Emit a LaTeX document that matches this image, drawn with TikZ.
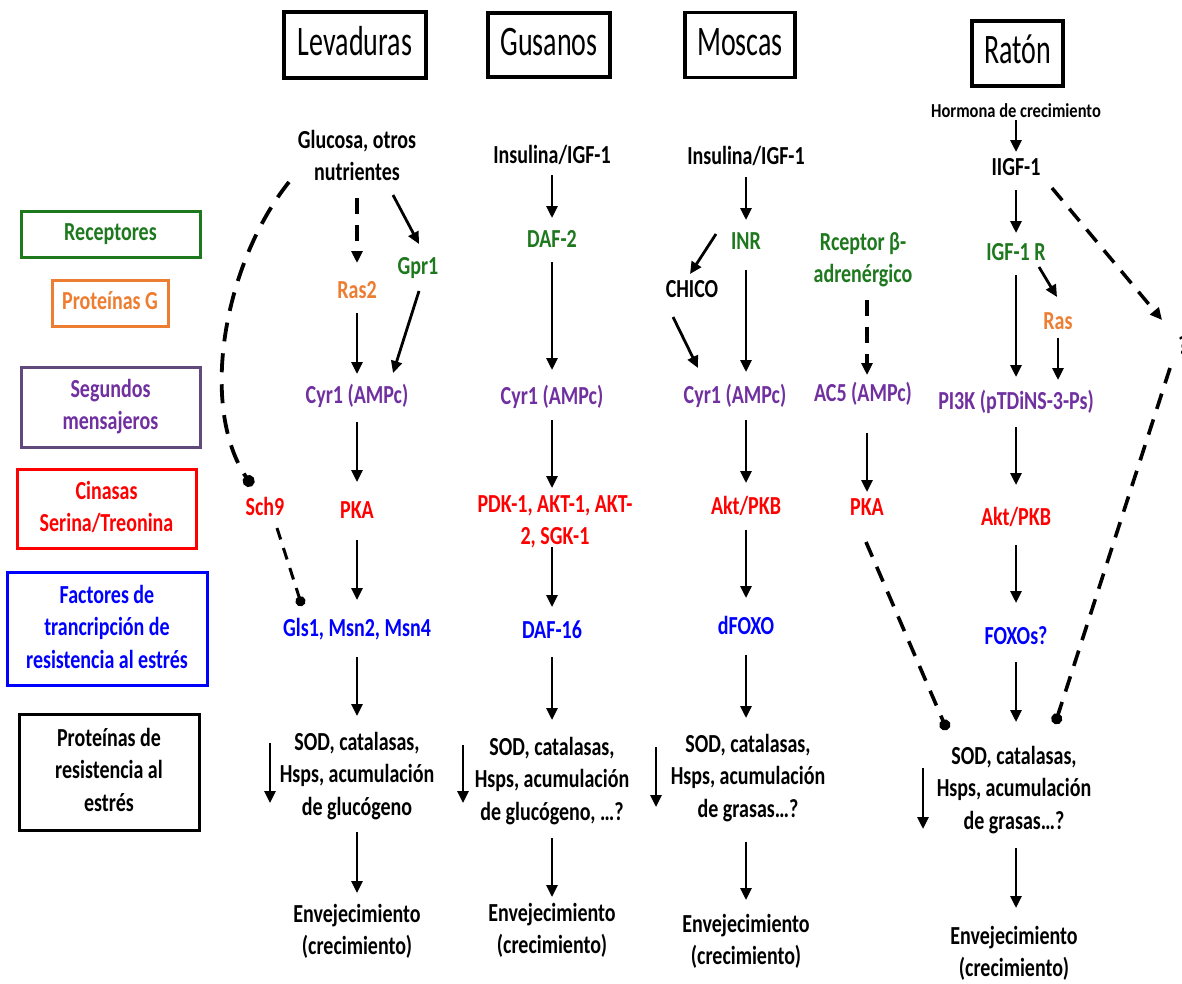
\documentclass[tikz,border=0pt]{standalone}
\usepackage{fontspec}
\setmainfont{Carlito}
\usepackage{graphicx}
\usetikzlibrary{arrows.meta}
\definecolor{cgreen}{RGB}{30,120,30}
\definecolor{corange}{RGB}{237,125,49}
\definecolor{cpurple}{RGB}{112,48,160}
\definecolor{cpurplebox}{RGB}{96,74,123}
\definecolor{cred}{RGB}{255,0,0}
\definecolor{cblue}{RGB}{0,0,255}
\newcommand{\Tx}[2][1.3]{\scalebox{1}[#1]{\begin{tabular}{@{}c@{}}#2\end{tabular}}}
\tikzset{
  txt/.style={inner sep=0pt, font=\bfseries\fontsize{20}{25}\selectfont},
  smalltxt/.style={inner sep=0pt, font=\bfseries\fontsize{16.5}{20}\selectfont},
  hdr/.style={draw, line width=3.5pt, inner sep=0pt, font=\fontsize{28}{34}\selectfont},
  leg/.style={draw, line width=3pt, inner sep=0pt, font=\bfseries\fontsize{20}{25}\selectfont},
  arr/.style={line width=2.8pt, -{Triangle[length=12pt,width=11pt]}},
  darr/.style={line width=3.5pt, dash pattern=on 16pt off 11pt, -{Triangle[length=12pt,width=11pt]}},
  ddot/.style={line width=3.6pt, dash pattern=on 16pt off 11pt, -{Circle[length=11pt]}},
  dline/.style={line width=3.8pt, dash pattern=on 19pt off 12pt},
}
\begin{document}
\begin{tikzpicture}[x=1pt,y=-1pt]
\useasboundingbox (0,0) rectangle (1182,983);
\fill[white] (0,0) rectangle (1182,983);

% headers
\node[hdr, minimum width=142pt, minimum height=66pt] (hlev) at (355,45) {\Tx[1.5]{Levaduras}};
\node[hdr, minimum width=122pt, minimum height=64pt] (hgus) at (549,45) {\Tx[1.5]{Gusanos}};
\node[hdr, minimum width=110pt, minimum height=65pt] (hmos) at (740,45) {\Tx[1.5]{Moscas}};
\node[hdr, minimum width=91pt, minimum height=65pt] (hrat) at (1017.5,53.5) {\Tx[1.5]{Ratón}};

% legend
\node[leg, draw=cgreen, text=cgreen, minimum width=179pt, minimum height=46pt] (lrec) at (110.5,234) {\Tx{Receptores}};
\node[leg, draw=corange, text=corange, minimum width=116pt, minimum height=46pt] (lprg) at (110,303) {\Tx{Proteínas G}};
\node[leg, draw=cpurplebox, text=cpurple, minimum width=179pt, minimum height=80pt] (lseg) at (110.5,407) {\Tx{Segundos\\mensajeros}};
\node[leg, draw=cred, text=cred, minimum width=179pt, minimum height=79pt] (lcin) at (106.5,509) {\Tx{Cinasas\\Serina/Treonina}};
\node[leg, draw=cblue, text=cblue, minimum width=200pt, minimum height=113pt] (lfac) at (107,629) {\Tx{Factores de\\trancripción de\\resistencia al estrés}};
\node[leg, draw=black, text=black, minimum width=180pt, minimum height=116pt] (lpro) at (109,772) {\Tx{Proteínas de\\resistencia al\\estrés}};

% ---------- Levaduras ----------
\node[txt] (glu) at (357,158) {\Tx{Glucosa, otros\\nutrientes}};
\node[txt, text=corange] (ras2) at (357,292) {\Tx{Ras2}};
\node[txt, text=cgreen] (gpr1) at (418,268) {\Tx{Gpr1}};
\node[txt, text=cpurple] (cyr1y) at (357,397) {\Tx{Cyr1 (AMPc)}};
\node[txt, text=cred] (sch9) at (265,509) {\Tx{Sch9}};
\node[txt, text=cred] (pkay) at (357,512) {\Tx{PKA}};
\node[txt, text=cblue] (glsy) at (357,630) {\Tx{Gls1, Msn2, Msn4}};
\node[txt] (sody) at (357,776) {\Tx{SOD, catalasas,\\Hsps, acumulación\\de glucógeno}};
\node[txt] (envy) at (357,932) {\Tx{Envejecimiento\\(crecimiento)}};
\coordinate (dy1) at (270,743);
\coordinate (dy2) at (270,803);

\draw[darr] ([yshift=-40pt]glu.center) -- ([yshift=29pt]ras2.center);
\draw[arr] ([xshift=36pt,yshift=-37pt]glu.center) -- ([xshift=1pt,yshift=24pt]gpr1.center);
\draw[arr] ([yshift=-21pt]ras2.center) -- ([yshift=23pt]cyr1y.center);
\draw[arr] ([xshift=1pt,yshift=-23pt]gpr1.center) -- ([xshift=36pt,yshift=24pt]cyr1y.center);
\draw[arr] ([yshift=-25pt]cyr1y.center) -- ([yshift=30pt]pkay.center);
\draw[arr] ([yshift=-28pt]pkay.center) -- ([yshift=30pt]glsy.center);
\draw[arr] ([yshift=-27pt]glsy.center) -- ([yshift=60pt]sody.center);
\draw[arr] ([yshift=-56pt]sody.center) -- ([yshift=39pt]envy.center);
\draw[arr] (dy1) -- (dy2);
\draw[dline, -{Circle[length=12pt]}] ([xshift=-68pt,yshift=-24pt]glu.center) .. controls (225,262) and (198,405) .. ([xshift=-13pt,yshift=23pt]sch9.center);
\draw[line width=3pt, dash pattern=on 12pt off 9pt, -{Circle[length=10pt]}] ([xshift=12pt,yshift=-19pt]sch9.center) -- ([xshift=-55pt,yshift=24pt]glsy.center);

% ---------- Gusanos ----------
\node[txt] (insg) at (552,157) {\Tx{Insulina/IGF-1}};
\node[txt, text=cgreen] (daf2) at (552,241) {\Tx{DAF-2}};
\node[txt, text=cpurple] (cyr1g) at (552,398) {\Tx{Cyr1 (AMPc)}};
\node[txt, text=cred] (pdk) at (555,522) {\Tx{PDK-1, AKT-1, AKT-\\2, SGK-1}};
\node[txt, text=cblue] (daf16) at (552,632) {\Tx{DAF-16}};
\node[txt] (sodg) at (552,781) {\Tx{SOD, catalasas,\\Hsps, acumulación\\de glucógeno, …?}};
\node[txt] (envg) at (552,931) {\Tx{Envejecimiento\\(crecimiento)}};
\coordinate (dg1) at (463,745);
\coordinate (dg2) at (463,803);

\draw[arr] ([yshift=-18pt]insg.center) -- ([yshift=23pt]daf2.center);
\draw[arr] ([yshift=-21pt]daf2.center) -- ([yshift=28pt]cyr1g.center);
\draw[arr] ([yshift=-22pt]cyr1g.center) -- ([xshift=-3pt,yshift=34pt]pdk.center);
\draw[arr] ([xshift=-3pt,yshift=-25pt]pdk.center) -- ([yshift=25pt]daf16.center);
\draw[arr] ([yshift=-25pt]daf16.center) -- ([yshift=61pt]sodg.center);
\draw[arr] ([yshift=-57pt]sodg.center) -- ([yshift=34pt]envg.center);
\draw[arr] (dg1) -- (dg2);

% ---------- Moscas ----------
\node[txt] (insm) at (746,158) {\Tx{Insulina/IGF-1}};
\node[txt, text=cgreen] (inr) at (746,243) {\Tx{INR}};
\node[txt] (chico) at (692,291) {\Tx{CHICO}};
\node[txt, text=cpurple] (cyr1m) at (735,397) {\Tx{Cyr1 (AMPc)}};
\node[txt, text=cred] (aktm) at (746,508) {\Tx{Akt/PKB}};
\node[txt, text=cblue] (dfoxo) at (746,628) {\Tx{dFOXO}};
\node[txt] (sodm) at (748,778) {\Tx{SOD, catalasas,\\Hsps, acumulación\\de grasas…?}};
\node[txt] (envm) at (746,942) {\Tx{Envejecimiento\\(crecimiento)}};
\node[txt, text=cgreen] (rcep) at (863,260) {\Tx{Rceptor β-\\adrenérgico}};
\node[txt, text=cpurple] (ac5) at (863,395) {\Tx{AC5 (AMPc)}};
\node[txt, text=cred] (pkam) at (867,509) {\Tx{PKA}};
\coordinate (dm1) at (656,747);
\coordinate (dm2) at (656,807);

\draw[arr] ([yshift=-19pt]insm.center) -- ([yshift=23pt]inr.center);
\draw[arr] ([yshift=-27pt]inr.center) -- ([xshift=11pt,yshift=25pt]cyr1m.center);
\draw[arr] ([xshift=-30pt,yshift=9pt]inr.center) -- ([xshift=-2pt,yshift=17pt]chico.center);
\draw[arr] ([xshift=-19pt,yshift=-26pt]chico.center) -- ([xshift=-37pt,yshift=29pt]cyr1m.center);
\draw[arr] ([xshift=11pt,yshift=-23pt]cyr1m.center) -- ([yshift=25pt]aktm.center);
\draw[arr] ([yshift=-22pt]aktm.center) -- ([yshift=30pt]dfoxo.center);
\draw[arr] ([yshift=-27pt]dfoxo.center) -- ([xshift=-2pt,yshift=60pt]sodm.center);
\draw[arr] ([xshift=-2pt,yshift=-64pt]sodm.center) -- ([yshift=42pt]envm.center);
\draw[arr] (dm1) -- (dm2);
\draw[darr] ([xshift=4pt,yshift=-40pt]rcep.center) -- ([xshift=4pt,yshift=20pt]ac5.center);
\draw[arr] ([xshift=4pt,yshift=-38pt]ac5.center) -- ([yshift=17pt]pkam.center);

% ---------- Raton ----------
\node[smalltxt] (horm) at (1016,113) {\Tx[1.2]{Hormona de crecimiento}};
\node[txt] (iigf) at (1016,169) {\Tx{IIGF-1}};
\node[txt, text=cgreen] (igfr) at (1016,254) {\Tx{IGF-1 R}};
\node[txt, text=corange] (rasr) at (1058,323) {\Tx{Ras}};
\node[txt, text=cpurple] (pi3k) at (1016,403) {\Tx{PI3K (pTDiNS-3-Ps)}};
\node[txt, text=cred] (aktr) at (1016,519) {\Tx{Akt/PKB}};
\node[txt, text=cblue] (foxos) at (1016,638) {\Tx{FOXOs?}};
\node[txt] (sodr) at (1014,790) {\Tx{SOD, catalasas,\\Hsps, acumulación\\de grasas…?}};
\node[txt] (envr) at (1014,954) {\Tx{Envejecimiento\\(crecimiento)}};
\node[txt] (qm) at (1183,348) {\Tx{?}};
\coordinate (dr1) at (923,768);
\coordinate (dr2) at (923,829);

\draw[arr] ([yshift=-7pt]horm.center) -- ([yshift=17pt]iigf.center);
\draw[arr] ([yshift=-21pt]iigf.center) -- ([yshift=21pt]igfr.center);
\draw[arr] ([yshift=-21pt]igfr.center) -- ([yshift=26pt]pi3k.center);
\draw[arr] ([xshift=23pt,yshift=-13pt]igfr.center) -- ([xshift=-1pt,yshift=26pt]rasr.center);
\draw[arr] ([yshift=-15pt]rasr.center) -- ([xshift=42pt,yshift=23pt]pi3k.center);
\draw[arr] ([yshift=-24pt]pi3k.center) -- ([yshift=34pt]aktr.center);
\draw[arr] ([yshift=-26pt]aktr.center) -- ([yshift=35pt]foxos.center);
\draw[arr] ([yshift=-24pt]foxos.center) -- ([xshift=2pt,yshift=68pt]sodr.center);
\draw[arr] ([xshift=2pt,yshift=-58pt]sodr.center) -- ([xshift=2pt,yshift=46pt]envr.center);
\draw[arr] (dr1) -- (dr2);
\draw[darr] ([xshift=36pt,yshift=-19pt]iigf.center) -- ([xshift=-21pt,yshift=28pt]qm.center);
\draw[ddot] ([xshift=-13pt,yshift=-20pt]qm.center) -- ([xshift=41pt,yshift=66pt]sodr.center);
\draw[ddot] ([xshift=-1pt,yshift=-33pt]pkam.center) -- ([xshift=-67pt,yshift=60pt]sodr.center);
\end{tikzpicture}
\end{document}
